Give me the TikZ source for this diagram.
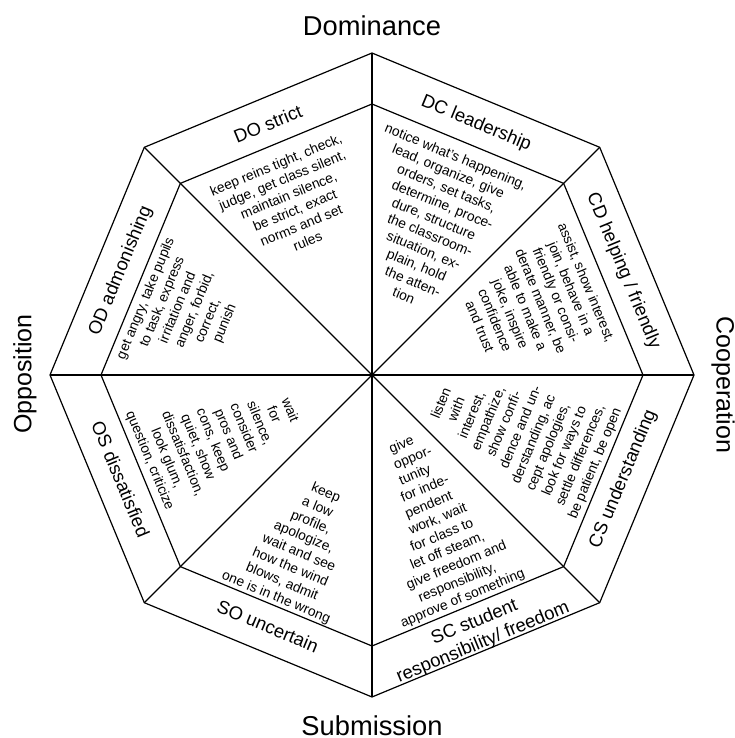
\documentclass[tikz,border=0pt]{standalone}
\usepackage{fontspec}
\setmainfont{Liberation Sans}
\usepackage{tikz}
\usetikzlibrary{positioning}
\tikzset{pole/.style={font=\fontsize{27.3}{33}\selectfont, inner sep=0pt}}
\tikzset{sidepole/.style={font=\fontsize{25}{30}\selectfont, inner sep=0pt}}
\tikzset{band/.style={font=\fontsize{18.5}{22}\selectfont, align=center, inner sep=0pt}}
\tikzset{body/.style={font=\fontsize{13.8}{16.5}\selectfont, inner sep=0pt}}
\newcommand{\ind}[1]{\hspace*{#1}}
\newcommand{\rind}[1]{\hspace*{#1}\mbox{}}

\begin{document}
\begin{tikzpicture}[x=1pt,y=1pt,line width=1.2pt]
\useasboundingbox (-372,-363) rectangle (362,375);
% outer and inner octagon
\draw (0:322) -- (45:322) -- (90:322) -- (135:322) -- (180:322) -- (225:322) -- (270:322) -- (315:322) -- cycle;
\draw (0:271) -- (45:271) -- (90:271) -- (135:271) -- (180:271) -- (225:271) -- (270:271) -- (315:271) -- cycle;
\foreach \a in {0,45,...,315} {
\draw (0,0) -- (\a:322);
}
% the four poles
\node[pole] (dom) at (0,349) {Dominance};
\node[pole] (sub) at (0,-351) {Submission};
\node[sidepole, rotate=90] (opp) at (-347,1) {Opposition};
\node[sidepole, rotate=-90] (coop) at (351,-10) {Cooperation};
% sector names
\node[band, rotate=22.5] (do) at (112.5:272) {DO strict};
\node[band, rotate=-22.5] (dc) at (67.5:272) {DC leadership};
\node[band, rotate=-67.5] (cd) at (22.5:272) {CD helping / friendly};
\node[band, rotate=67.5] (cs) at (-22.5:272) {CS understanding};
\node[band, rotate=22.5] (sc) at (-67.5:279) {SC student\\responsibility/ freedom};
\node[band, rotate=-22.5] (so) at (-112.5:272) {SO uncertain};
\node[band, rotate=-67.5] (os) at (-157.5:272) {OS dissatisfied};
\node[band, rotate=67.5] (od) at (157.5:272) {OD admonishing};
% behaviour in each sector
\node[body, align=center, rotate=22.5, anchor=north] (dotext) at (114.5:237)
{keep reins tight, check,\\judge, get class silent,\\maintain silence,\\be strict, exact\\norms and set\\rules};
\node[body, align=left, rotate=-22.5, anchor=north] (dctext) at (69:240)
{notice what’s happening,\\\ind{15pt}lead, organize, give\\\ind{27pt}orders, set tasks,\\\ind{28pt}determine, proce-\\\ind{35pt}dure, structure\\\ind{37pt}the classroom-\\\ind{43pt}situation, ex-\\\ind{50pt}plain, hold\\\ind{55pt}the atten-\\\ind{70pt}tion};
\node[body, align=center, rotate=-67.5, anchor=north] (cdtext) at (23.3:239.5)
{assist, show interest,\\join, behave in a\\friendly or consi-\\derate manner, be\\able to make a\\joke, inspire\\confidence\\and trust};
\node[body, align=left, rotate=67.5, anchor=north] (odtext) at (161.2:245.5)
{get angry, take pupils\\\ind{20pt}to task, express\\\ind{31pt}irritation and\\\ind{33pt}anger, forbid,\\\ind{45pt}correct,\\\ind{52pt}punish};
\node[body, align=left, rotate=-67.5, anchor=south] (ostext) at (-158.9:245.5)
{\ind{48pt}wait\\\ind{50pt}for\\\ind{37pt}silence,\\\ind{33pt}consider\\\ind{32pt}pros and\\\ind{25pt}cons, keep\\\ind{24pt}quiet, show\\\ind{14pt}dissatisfaction,\\\ind{26pt}look glum,\\question, criticize};
\node[body, align=right, rotate=-22.5, anchor=south] (sotext) at (-113.3:249.5)
{keep\rind{37pt}\\a low\rind{38pt}\\profile,\rind{34pt}\\apologize,\rind{24pt}\\wait and see\rind{15pt}\\how the wind\rind{16pt}\\blows, admit\rind{20pt}\\one is in the wrong};
\node[body, align=left, rotate=22.5, anchor=south] (sctext) at (-67.9:248.5)
{\ind{56pt}give\\\ind{54pt}oppor-\\\ind{53pt}tunity\\\ind{48pt}for inde-\\\ind{46pt}pendent\\\ind{43pt}work, wait\\\ind{38pt}for class to\\\ind{31pt}let off steam,\\\ind{20pt}give freedom and\\\ind{26pt}responsibility,\\approve of something};
\node[body, align=left, rotate=67.5, anchor=south] (cstext) at (-21.7:247.5)
{\ind{40pt}listen\\\ind{44pt}with\\\ind{32pt}interest,\\\ind{26pt}empathize,\\\ind{26pt}show confi-\\\ind{20pt}dence and un-\\\ind{11pt}derstanding, ac\\\ind{10pt}cept apologies,\\\ind{11pt}look for ways to\\\ind{7pt}settle differences,\\be patient, be open};
\end{tikzpicture}
\end{document}
